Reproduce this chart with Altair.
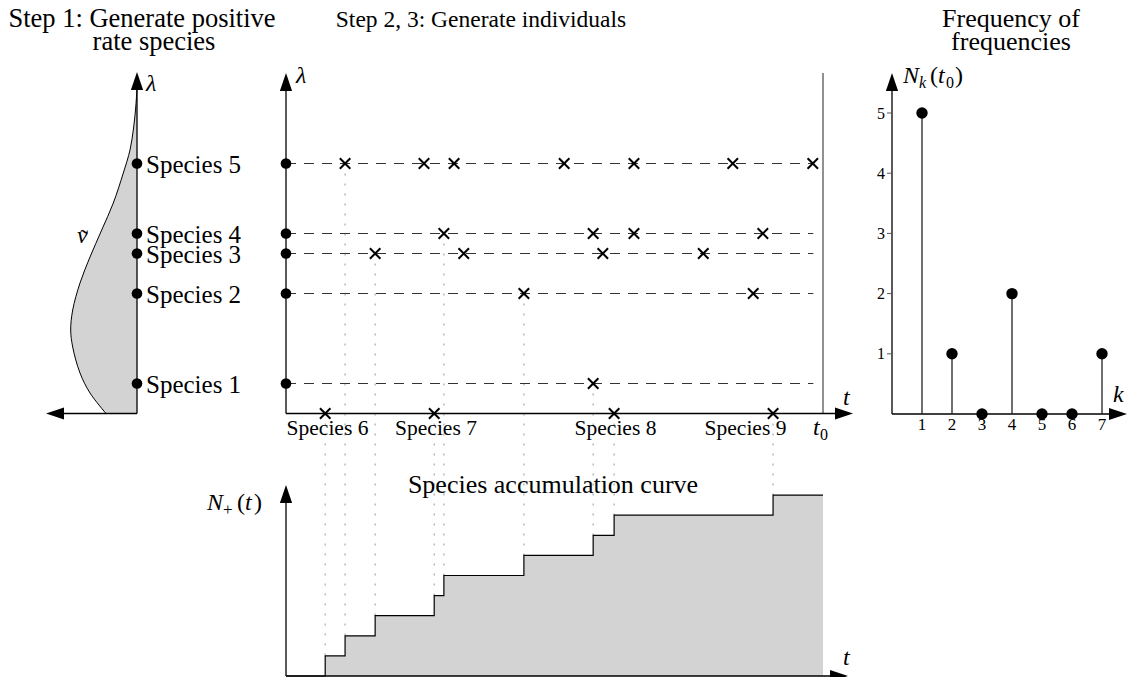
import altair as alt
import pandas as pd

# ---------------- values ----------------
# Step 1: rates (lambda) of the five positive-rate species
species_names = ["Species 1", "Species 2", "Species 3", "Species 4", "Species 5"]
species_rates = [0.6, 2.4, 3.2, 3.6, 5.0]

# rate density nu~ (lambda, density value)
density_lambda = [0.0, 0.41, 0.81, 1.33, 1.67, 2.07, 2.61, 3.13, 3.67, 4.21, 4.81, 5.27, 5.67, 6.07, 6.5]
density_nu = [3.1, 4.7, 5.7, 6.43, 6.63, 6.43, 5.7, 4.7, 3.53, 2.37, 1.37, 0.7, 0.37, 0.15, 0.0]

# Step 2, 3: sighting times of individuals (t0 = 10)
t0 = 10.0
sightings_sp1 = [5.72]
sightings_sp2 = [4.43, 8.70]
sightings_sp3 = [1.66, 3.31, 5.90, 7.77]
sightings_sp4 = [2.94, 5.72, 6.48, 8.88]
sightings_sp5 = [1.10, 2.57, 3.13, 5.18, 6.48, 8.32, 9.81]
# species seen once, drawn on the time axis
extra_names = ["Species 6", "Species 7", "Species 8", "Species 9"]
extra_times = [0.73, 2.76, 6.11, 9.07]

# Frequency of frequencies
freq_k = [1, 2, 3, 4, 5, 6, 7]
freq_counts = [5, 1, 0, 2, 0, 0, 1]
freq_ticks = [1, 2, 3, 4, 5]

# ---------------- layout ----------------
FONT = "Liberation Serif"
MID_X0, T_PX = 286.0, 53.7
LAM_Y0, LAM_PX = 413.5, 50.0
LEFT_X0, NU_PX = 137.0, 10.0
ACC_Y0, ACC_PX = 676.0, 20.1
FF_X0, FF_Y0, K_PX, N_PX = 892.0, 414.0, 30.0, 60.2
DASH_END_T = 9.82
ARROW_LEN = 18.0


def tx(t):
    return MID_X0 + t * T_PX


def ly(lam):
    return LAM_Y0 - lam * LAM_PX


XS = alt.Scale(domain=[8, 1128], nice=False, zero=False)
YS = alt.Scale(domain=[677, 8], nice=False, zero=False)
X = alt.X("x:Q", scale=XS, axis=None)
Y = alt.Y("y:Q", scale=YS, axis=None)
X2 = alt.X2("x2:Q")
Y2 = alt.Y2("y2:Q")

all_sightings = [sightings_sp1, sightings_sp2, sightings_sp3, sightings_sp4, sightings_sp5]

# ---------- tables built from the values ----------
species_y = [ly(r) for r in species_rates]

dots = pd.DataFrame({
    "x": [LEFT_X0] * 5 + [MID_X0] * 5,
    "y": species_y + species_y,
})

dashed = pd.DataFrame({
    "x": [MID_X0] * 5, "x2": [tx(DASH_END_T)] * 5,
    "y": species_y, "y2": species_y,
})

cross_rows = []
for y, times in zip(species_y, all_sightings):
    for t in times:
        cross_rows.append({"x": tx(t), "y": y})
for t in extra_times:
    cross_rows.append({"x": tx(t), "y": LAM_Y0})
crosses = pd.DataFrame(cross_rows)

# first sightings -> accumulation curve
firsts = [(min(times), y) for times, y in zip(all_sightings, species_y)]
firsts += [(t, LAM_Y0) for t in extra_times]
firsts.sort()
acc_rows = [{"x": tx(0.0), "y": ACC_Y0, "y2": ACC_Y0}]
dotted_rows = []
for i, (t, y) in enumerate(firsts, start=1):
    yy = ACC_Y0 - i * ACC_PX
    acc_rows.append({"x": tx(t), "y": yy, "y2": ACC_Y0})
    dotted_rows.append({"x": tx(t), "x2": tx(t), "y": y, "y2": yy})
acc_rows.append({"x": tx(t0), "y": ACC_Y0 - len(firsts) * ACC_PX, "y2": ACC_Y0})
acc = pd.DataFrame(acc_rows)
dotted = pd.DataFrame(dotted_rows)

density = pd.DataFrame({
    "lam": density_lambda,
    "x": [LEFT_X0 - v * NU_PX for v in density_nu],
    "x2": [LEFT_X0] * len(density_nu),
    "y": [ly(l) for l in density_lambda],
})

stems = pd.DataFrame([
    {"x": FF_X0 + k * K_PX, "x2": FF_X0 + k * K_PX, "y": FF_Y0, "y2": FF_Y0 - n * N_PX}
    for k, n in zip(freq_k, freq_counts) if n > 0
])
ff_dots = pd.DataFrame({
    "x": [FF_X0 + k * K_PX for k in freq_k],
    "y": [FF_Y0 - n * N_PX for n in freq_counts],
})
ticks = pd.DataFrame({
    "x": [FF_X0 - 5] * len(freq_ticks), "x2": [FF_X0] * len(freq_ticks),
    "y": [FF_Y0 - v * N_PX for v in freq_ticks], "y2": [FF_Y0 - v * N_PX for v in freq_ticks],
})

# axes with arrow heads: (start x, start y, tip x, tip y)
axes_def = [
    (LEFT_X0, LAM_Y0, LEFT_X0, 72.0),
    (LEFT_X0, LAM_Y0, 46.0, LAM_Y0),
    (MID_X0, LAM_Y0, MID_X0, 73.0),
    (MID_X0, LAM_Y0, 853.0, LAM_Y0),
    (MID_X0, ACC_Y0, MID_X0, 485.0),
    (MID_X0, ACC_Y0, 848.0, ACC_Y0),
    (FF_X0, FF_Y0, FF_X0, 73.0),
    (FF_X0, FF_Y0, 1127.0, FF_Y0),
]
SHAPES = {
    "up": "M0,-1L-0.68,1L0.68,1Z",
    "right": "M1,0L-1,-0.68L-1,0.68Z",
    "left": "M-1,0L1,-0.68L1,0.68Z",
}
axis_rows, arrow_rows = [], []
h = ARROW_LEN / 2
for x0, y0, xt, yt in axes_def:
    if xt == x0:
        cx, cy, shp = xt, yt + h, "up"
    elif xt > x0:
        cx, cy, shp = xt - h, yt, "right"
    else:
        cx, cy, shp = xt + h, yt, "left"
    axis_rows.append({"x": x0, "y": y0, "x2": cx, "y2": cy})
    arrow_rows.append({"x": cx, "y": cy, "shape": SHAPES[shp]})
axes = pd.DataFrame(axis_rows)
arrows = pd.DataFrame(arrow_rows)

t0_line = pd.DataFrame([{"x": tx(t0), "x2": tx(t0), "y": LAM_Y0, "y2": 73.0}])


def text_layer(rows, align, style="normal"):
    df = pd.DataFrame(rows, columns=["label", "x", "y", "size"])
    return alt.Chart(df).mark_text(
        align=align, baseline="alphabetic", font=FONT, fontStyle=style, color="black"
    ).encode(x=X, y=Y, text="label:N", size=alt.Size("size:Q", scale=None))


center_text = [
    ("Step 1: Generate positive", 142, 27, 26.5),
    ("rate species", 154, 50, 26.5),
    ("Step 2, 3: Generate individuals", 481, 27, 23.5),
    ("Frequency of", 1011, 27, 26),
    ("frequencies", 1011, 50, 26),
    ("Species accumulation curve", 553, 493, 26),
    ("\u02dc", 84, 246, 24),
]
extra_label_x = [327.5, 436, 615.5, 745.5]
for name, lx in zip(extra_names, extra_label_x):
    center_text.append((name, lx, 435, 21.5))
for k in freq_k:
    center_text.append((str(k), FF_X0 + k * K_PX, 430, 17))

left_text = [(n, 146, y + 9.5, 25) for n, y in zip(species_names, species_y)]
left_text += [
    ("0", 820, 440, 16),
    ("(", 930, 83, 24), ("0", 946, 88, 16), (")", 955, 83, 24),
    ("+", 223, 515, 17), ("(", 237, 510, 24), (")", 254, 510, 24),
]
right_text = [(str(v), 885, FF_Y0 - v * N_PX + 5.5, 16) for v in freq_ticks]

italic_text = [
    ("λ", 146, 91, 24),
    ("λ", 296, 83, 24),
    ("\u03bd", 77, 243, 24),
    ("t", 843, 405, 24),
    ("t", 813, 435, 24),
    ("N", 903, 83, 24), ("k", 919, 88, 16), ("t", 938, 83, 24),
    ("N", 207, 510, 24), ("t", 245, 510, 24),
    ("k", 1113, 402, 24),
    ("t", 843, 665, 24),
]

density_x = alt.X("x:Q", scale=XS, axis=None, stack=None)

layers = [
    alt.Chart(density).mark_area(orient="horizontal", interpolate="catmull-rom", color="#d3d3d3",
                                 opacity=1)
    .encode(x=density_x, x2=X2, y=Y),
    alt.Chart(density).mark_line(interpolate="catmull-rom", color="black", strokeWidth=1)
    .encode(x=X, y=Y, order=alt.Order("lam:Q")),
    alt.Chart(acc).mark_area(interpolate="step-after", color="#d3d3d3", opacity=1)
    .encode(x=X, y=Y, y2=Y2),
    alt.Chart(dotted).mark_rule(color="#a8a8a8", strokeWidth=1.2, strokeDash=[2, 8])
    .encode(x=X, x2=X2, y=Y, y2=Y2),
    alt.Chart(acc).mark_line(interpolate="step-after", color="black", strokeWidth=1.2)
    .encode(x=X, y=Y, order=alt.Order("x:Q")),
    alt.Chart(dashed).mark_rule(color="#333333", strokeWidth=1.2, strokeDash=[10, 8])
    .encode(x=X, x2=X2, y=Y, y2=Y2),
    alt.Chart(t0_line).mark_rule(color="#555555", strokeWidth=1.3)
    .encode(x=X, x2=X2, y=Y, y2=Y2),
    alt.Chart(axes).mark_rule(color="black", strokeWidth=1.3)
    .encode(x=X, x2=X2, y=Y, y2=Y2),
    alt.Chart(arrows).mark_point(filled=True, color="black", opacity=1, size=ARROW_LEN ** 2, strokeWidth=0)
    .encode(x=X, y=Y, shape=alt.Shape("shape:N", scale=None)),
    alt.Chart(stems).mark_rule(color="#222222", strokeWidth=1.3)
    .encode(x=X, x2=X2, y=Y, y2=Y2),
    alt.Chart(ticks).mark_rule(color="#555555", strokeWidth=1)
    .encode(x=X, x2=X2, y=Y, y2=Y2),
    alt.Chart(crosses).mark_point(shape="M-1,-1L1,1M-1,1L1,-1", filled=False, color="black",
                                  opacity=1, size=110, strokeWidth=2)
    .encode(x=X, y=Y),
    alt.Chart(dots).mark_circle(color="black", opacity=1, size=113).encode(x=X, y=Y),
    alt.Chart(ff_dots).mark_circle(color="black", opacity=1, size=130).encode(x=X, y=Y),
    text_layer(center_text, "center"),
    text_layer(left_text, "left"),
    text_layer(right_text, "right"),
    text_layer(italic_text, "left", "italic"),
]

chart = alt.layer(*layers).properties(
    width=1120, height=669, padding=0,
    autosize=alt.AutoSizeParams(type="none"),
).configure_view(strokeWidth=0)

chart.save("out.html", embed_options={"renderer": "svg", "actions": False})
